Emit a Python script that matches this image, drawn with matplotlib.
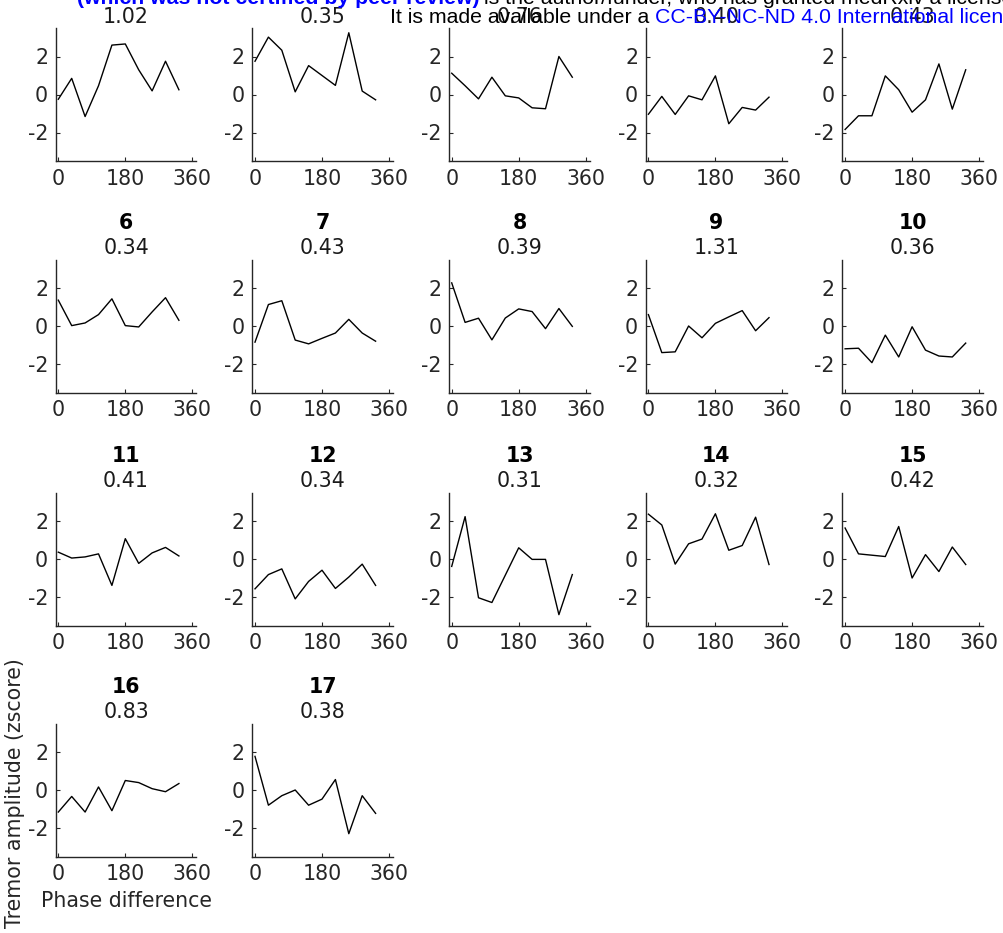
import matplotlib

matplotlib.use("Agg")
import matplotlib.pyplot as plt

plt.rcParams["axes.unicode_minus"] = False

# phase difference bins (degrees)
phase = [0, 36, 72, 108, 144, 180, 216, 252, 288, 324]

# tremor amplitude (z-score) per patient
amp_01 = [-0.25, 0.85, -1.16, 0.46, 2.60, 2.66, 1.30, 0.19, 1.75, 0.25]
amp_02 = [1.75, 3.02, 2.33, 0.14, 1.52, 1.00, 0.48, 3.25, 0.18, -0.28]
amp_03 = [1.12, 0.46, -0.23, 0.91, -0.07, -0.18, -0.70, -0.75, 2.00, 0.91]
amp_04 = [-1.04, -0.10, -1.05, -0.07, -0.28, 0.98, -1.54, -0.68, -0.82, -0.14]
amp_05 = [-1.84, -1.12, -1.12, 0.98, 0.25, -0.93, -0.28, 1.61, -0.77, 1.30]
amp_06 = [1.36, 0.02, 0.16, 0.60, 1.43, 0.02, -0.05, 0.74, 1.49, 0.30]
amp_07 = [-0.85, 1.13, 1.33, -0.74, -0.94, -0.65, -0.37, 0.35, -0.37, -0.80]
amp_08 = [2.27, 0.19, 0.41, -0.73, 0.42, 0.90, 0.76, -0.14, 0.92, -0.02]
amp_09 = [0.60, -1.40, -1.36, 0.00, -0.62, 0.14, 0.48, 0.81, -0.25, 0.44]
amp_10 = [-1.20, -1.17, -1.93, -0.48, -1.63, -0.04, -1.27, -1.58, -1.63, -0.90]
amp_11 = [0.36, 0.05, 0.11, 0.27, -1.39, 1.07, -0.23, 0.32, 0.61, 0.16]
amp_12 = [-1.57, -0.82, -0.52, -2.10, -1.18, -0.59, -1.55, -0.95, -0.27, -1.39]
amp_13 = [-0.39, 2.23, -2.04, -2.29, -0.85, 0.59, -0.02, -0.02, -2.93, -0.82]
amp_14 = [2.36, 1.79, -0.27, 0.80, 1.05, 2.38, 0.46, 0.71, 2.20, -0.29]
amp_15 = [1.63, 0.27, 0.20, 0.13, 1.71, -1.00, 0.23, -0.66, 0.63, -0.29]
amp_16 = [-1.16, -0.34, -1.16, 0.16, -1.09, 0.50, 0.39, 0.07, -0.09, 0.34]
amp_17 = [1.77, -0.80, -0.30, 0.00, -0.80, -0.48, 0.55, -2.30, -0.30, -1.23]

amplitudes = [amp_01, amp_02, amp_03, amp_04, amp_05, amp_06, amp_07, amp_08, amp_09,
              amp_10, amp_11, amp_12, amp_13, amp_14, amp_15, amp_16, amp_17]
patients = list(range(1, 18))
stat_values = ["1.02", "0.35", "0.76", "0.40", "0.43",
               "0.34", "0.43", "0.39", "1.31", "0.36",
               "0.41", "0.34", "0.31", "0.32", "0.42",
               "0.83", "0.38"]

xticks = [0, 180, 360]
yticks = [-2, 0, 2]

W, H = 1004, 933
fig = plt.figure(figsize=(W / 100, H / 100), dpi=100)

col_left = [55.7, 252.4, 449.1, 645.8, 842.5]
row_top = [28, 259.5, 492.5, 723.5]
ax_w, ax_h = 140.7, 133
dark = "#262626"

axes = []
for i, (pid, amp, stat) in enumerate(zip(patients, amplitudes, stat_values)):
    r, c = divmod(i, 5)
    rect = [col_left[c] / W, 1 - (row_top[r] + ax_h) / H, ax_w / W, ax_h / H]
    ax = fig.add_axes(rect)
    ax.plot(phase, amp, color="black", lw=1.0)
    ax.set_xlim(-7, 371)
    ax.set_ylim(-3.5, 3.5)
    ax.set_xticks(xticks)
    ax.set_yticks(yticks)
    ax.spines[["top", "right"]].set_visible(False)
    for s in ("left", "bottom"):
        ax.spines[s].set_color(dark)
        ax.spines[s].set_linewidth(1.0)
    ax.tick_params(direction="in", length=3, width=0.8, colors=dark, labelsize=14.8)
    ax.tick_params(axis="x", pad=5.5)
    ax.tick_params(axis="y", pad=5.5)
    ax.annotate(str(pid), xy=(0.5, 1), xycoords="axes fraction", xytext=(0, 26),
                textcoords="offset points", ha="center", va="center",
                fontsize=14.8, fontweight="bold", color="black")
    ax.annotate(stat, xy=(0.5, 1), xycoords="axes fraction", xytext=(0, 8),
                textcoords="offset points", ha="center", va="center",
                fontsize=14.8, color="#1a1a1a")
    axes.append(ax)

ax16 = axes[15]
ax16.set_xlabel("Phase difference", fontsize=14.8, color=dark, labelpad=5)
ax16.set_ylabel("Tremor amplitude (zscore)", fontsize=14.8, color=dark)
ax16.yaxis.set_label_coords(-0.22, 0.48)

# preprint banner overlapping the top of the figure
hdr = ["Liberation Sans", "DejaVu Sans"]
fig.text(77 / W, 1 - 4 / H, "(which was not certified by peer review)", color="blue",
         fontweight="bold", fontsize=15.3, family=hdr, va="baseline", ha="left")
fig.text(484 / W, 1 - 4 / H,
         "is the author/funder, who has granted medRxiv a license to display the preprint in perpetuity.",
         color="black", fontsize=15.3, family=hdr, va="baseline", ha="left")
fig.text(390 / W, 1 - 23 / H, "It is made available under a", color="black",
         fontsize=15.3, family=hdr, va="baseline", ha="left")
fig.text(655 / W, 1 - 23 / H, "CC-BY-NC-ND 4.0 International license.", color="blue",
         fontsize=15.3, family=hdr, va="baseline", ha="left")

fig.savefig("out.png", dpi=100)
